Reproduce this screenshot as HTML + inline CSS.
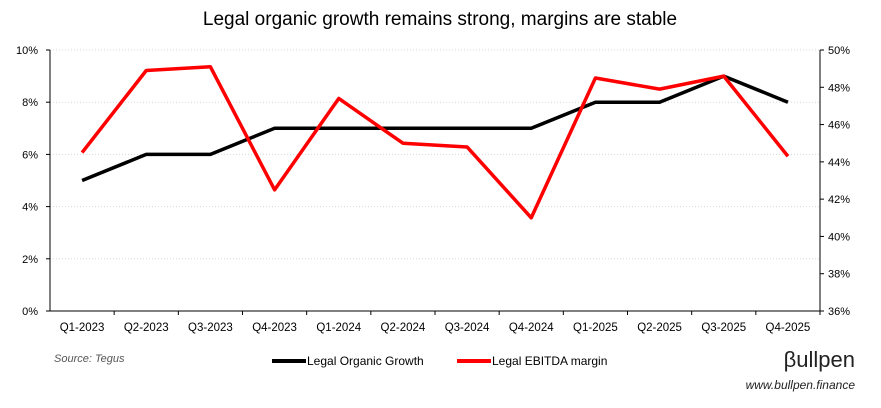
<!DOCTYPE html>
<html><head><meta charset="utf-8"><style>
body{margin:0;background:#fff;font-family:"Liberation Sans",sans-serif}
</style></head><body>
<svg width="881" height="403" id="c" font-family="Liberation Sans, sans-serif">
<text x="440" y="25" text-anchor="middle" font-size="19" fill="#000">Legal organic growth remains strong, margins are stable</text>
<text x="54" y="362" font-size="11" font-style="italic" fill="#555">Source: Tegus</text>
<g>
<line x1="272" y1="361" x2="306" y2="361" stroke="#000" stroke-width="4"/>
<text x="307" y="365" font-size="12">Legal Organic Growth</text>
<line x1="457" y1="361" x2="491" y2="361" stroke="#f00" stroke-width="4"/>
<text x="492" y="365" font-size="12">Legal EBITDA margin</text>
</g>
<text x="855" y="367" text-anchor="end" font-size="22" fill="#222">βullpen</text>
<text x="855" y="389" text-anchor="end" font-size="12" font-style="italic" fill="#222">www.bullpen.finance</text>
</svg>
<script>
const categories=["Q1-2023","Q2-2023","Q3-2023","Q4-2023","Q1-2024","Q2-2024","Q3-2024","Q4-2024","Q1-2025","Q2-2025","Q3-2025","Q4-2025"];
const organicGrowth=[5,6,6,7,7,7,7,7,8,8,9,8];
const ebitdaMargin=[44.5,48.9,49.1,42.5,47.4,45.0,44.8,41.0,48.5,47.9,48.6,44.3];
const leftTicks=[0,2,4,6,8,10];
const rightTicks=[36,38,40,42,44,46,48,50];
const NS="http://www.w3.org/2000/svg",svg=document.getElementById('c');
const L=50,R=820,T=50,B=311,bw=(R-L)/categories.length;
const x=i=>L+bw*(i+0.5);
const yL=v=>B-(v-0)/(10-0)*(B-T);
const yR=v=>B-(v-36)/(50-36)*(B-T);
function mk(t,a){const e=document.createElementNS(NS,t);for(const k in a)e.setAttribute(k,a[k]);svg.appendChild(e);return e;}
leftTicks.forEach(v=>{if(v>0){const g=mk('line',{x1:L,x2:R,y1:yL(v),y2:yL(v),stroke:'#d9d9d9','stroke-dasharray':'1,2'});

}
const t=mk('text',{x:L-12,y:yL(v)+4,'text-anchor':'end','font-size':11});t.textContent=v+'%';


mk('line',{x1:L-4,x2:L,y1:yL(v),y2:yL(v),stroke:'#000'});});
rightTicks.forEach(v=>{const t=mk('text',{x:R+8,y:yR(v)+4,'font-size':11});t.textContent=v+'%';


mk('line',{x1:R,x2:R+4,y1:yR(v),y2:yR(v),stroke:'#000'});});
const ax=mk('line',{x1:L,x2:R,y1:B,y2:B,stroke:'#000'});


const la=mk('line',{x1:L,x2:L,y1:T,y2:B,stroke:'#000'});


const ra=mk('line',{x1:R,x2:R,y1:T,y2:B,stroke:'#000'});


categories.forEach((c,i)=>{mk('line',{x1:L+bw*(i+1),x2:L+bw*(i+1),y1:B,y2:B+4,stroke:'#000'});
const t=mk('text',{x:x(i),y:B+20,'text-anchor':'middle','font-size':11.5});t.textContent=c;

});
const p1=mk('polyline',{points:organicGrowth.map((v,i)=>x(i)+','+yL(v)).join(' '),fill:'none',stroke:'#000','stroke-width':3.5,'stroke-linejoin':'round'});


const p2=mk('polyline',{points:ebitdaMargin.map((v,i)=>x(i)+','+yR(v)).join(' '),fill:'none',stroke:'#f00','stroke-width':3.5,'stroke-linejoin':'round'});


</script>
</body></html>
